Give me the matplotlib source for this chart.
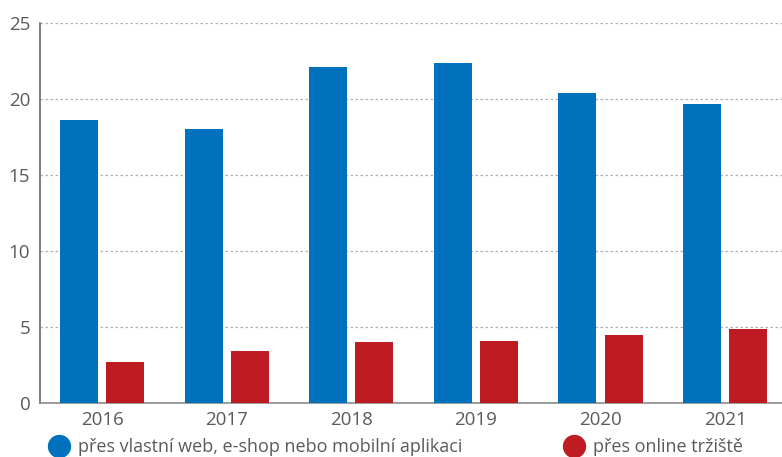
import matplotlib
matplotlib.use("Agg")
import matplotlib.pyplot as plt
from matplotlib.lines import Line2D
import numpy as np

years = ["2016", "2017", "2018", "2019", "2020", "2021"]
own_web = [18.6, 18.0, 22.1, 22.4, 20.4, 19.7]
marketplace = [2.7, 3.4, 4.0, 4.1, 4.5, 4.9]
labels = ["přes vlastní web, e-shop nebo mobilní aplikaci", "přes online tržiště"]
yticks = [0, 5, 10, 15, 20, 25]

BLUE = "#0071BD"
RED = "#BE1B22"
GREY = "#5a5a5a"

plt.rcParams['font.family'] = ['Open Sans', 'DejaVu Sans']

fig = plt.figure(figsize=(7.82, 4.57), dpi=100)
ax = fig.add_axes([40/782, 54/457, 742/782, 380/457])

x = np.arange(len(years))
w = 0.305
off = 0.185
ax.bar(x - off, own_web, width=w, color=BLUE, zorder=3)
ax.bar(x + off, marketplace, width=w, color=RED, zorder=3)

ax.set_xlim(-0.5, 5.457)
ax.set_ylim(0, 25)
ax.set_yticks(yticks)
ax.set_xticks(x)
ax.set_xticklabels(years)
ax.tick_params(axis='both', length=0, labelsize=13.5, labelcolor=GREY)
ax.tick_params(axis='y', pad=7)
ax.tick_params(axis='x', pad=6)
ax.yaxis.grid(True, linestyle=(0, (2, 2)), color="#b0b0b0", linewidth=0.9, zorder=0)
for s in ["top", "right"]:
    ax.spines[s].set_visible(False)
ax.spines["left"].set_color("#6a6a6a")
ax.spines["left"].set_linewidth(1.2)
ax.spines["bottom"].set_color("#8a8a8a")
ax.spines["bottom"].set_linewidth(1.2)

handles = [Line2D([], [], marker='o', linestyle='none', markersize=15.8, color=BLUE),
           Line2D([], [], marker='o', linestyle='none', markersize=15.8, color=RED)]
leg = fig.legend(handles, labels, loc='center left', bbox_to_anchor=(50/782, 9.5/457),
                 ncol=2, frameon=False, fontsize=13, handlelength=1.0,
                 handletextpad=0.55, columnspacing=5.7, borderaxespad=0, borderpad=0)
for t in leg.get_texts():
    t.set_color(GREY)

fig.savefig("out.png", dpi=100)
